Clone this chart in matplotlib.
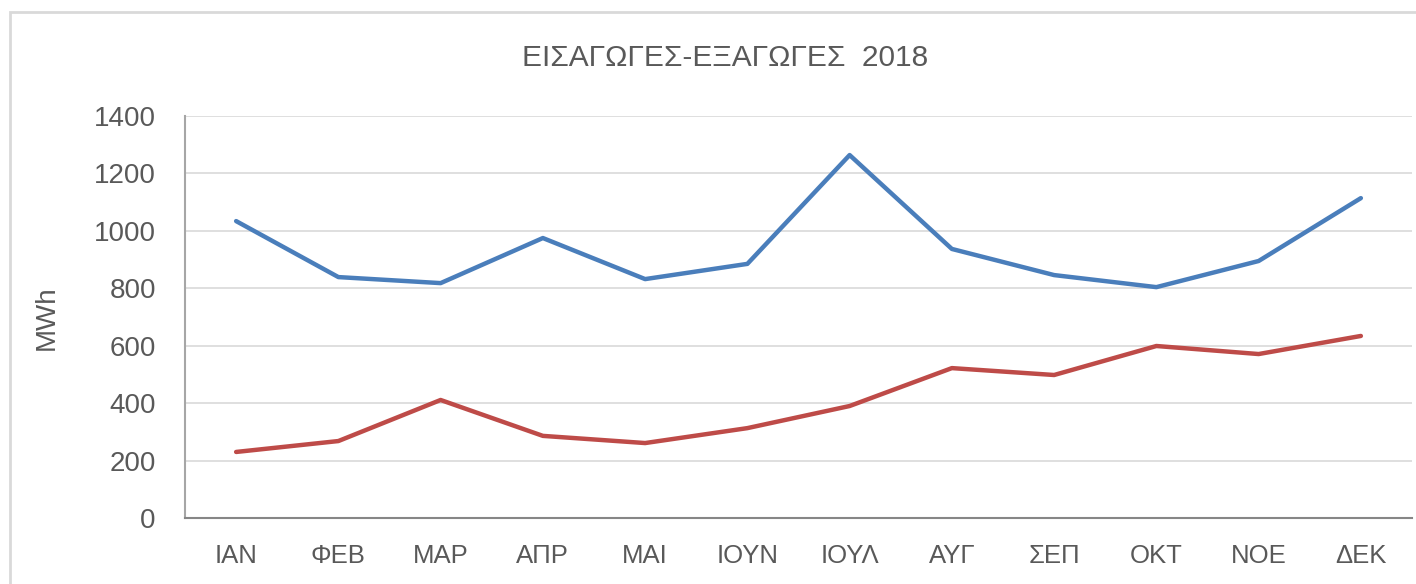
import numpy as np
import matplotlib.pyplot as plt
from matplotlib.patches import Rectangle

months = ['ΙΑΝ', 'ΦΕΒ', 'ΜΑΡ', 'ΑΠΡ', 'ΜΑΙ', 'ΙΟΥΝ', 'ΙΟΥΛ', 'ΑΥΓ', 'ΣΕΠ', 'ΟΚΤ', 'ΝΟΕ', 'ΔΕΚ']
imports_mwh = [1034, 839, 818, 975, 832, 885, 1264, 937, 846, 804, 895, 1114]
exports_mwh = [230, 268, 411, 286, 261, 313, 390, 522, 498, 599, 571, 634]
yticks = [0, 200, 400, 600, 800, 1000, 1200, 1400]

plt.rcParams['font.family'] = ['Liberation Sans', 'DejaVu Sans']
txt = '#595959'

fig = plt.figure(figsize=(14.16, 5.84), dpi=100)
# light frame round the chart (cut off at right and bottom like the screenshot)
fig.patches.append(Rectangle((10/1416, -0.05), 1.2, 1 - 12/584 + 0.05, transform=fig.transFigure,
                             fill=False, edgecolor='#d9d9d9', linewidth=2))

ax = fig.add_axes([185/1416, 1 - 518/584, (1412 - 185)/1416, (518 - 116)/584])
x = np.arange(len(months))
ax.plot(x, imports_mwh, color='#4a7ebb', linewidth=3.2, solid_capstyle='round')
ax.plot(x, exports_mwh, color='#be4b48', linewidth=3.2, solid_capstyle='round')

ax.set_xlim(-0.5, len(months) - 0.5)
ax.set_ylim(0, 1400)
ax.set_yticks(yticks)
ax.set_xticks(x)
ax.set_xticklabels(months)
ax.grid(axis='y', color='#d9d9d9', linewidth=1.2)
ax.set_axisbelow(True)
for s in ['top', 'right']:
    ax.spines[s].set_visible(False)
ax.spines['left'].set_color('#a6a6a6')
ax.spines['left'].set_linewidth(1.5)
ax.spines['bottom'].set_color('#868686')
ax.spines['bottom'].set_linewidth(1.5)
ax.tick_params(axis='both', length=0, colors=txt)
ax.tick_params(axis='y', labelsize=20, pad=21)
ax.tick_params(axis='x', labelsize=18.5, pad=19)

fig.text(47/1416, 1 - 318/584, 'MWh', rotation=90, ha='center', va='center', fontsize=20, color=txt)
fig.text(725/1416, 1 - 58/584, 'ΕΙΣΑΓΩΓΕΣ-ΕΞΑΓΩΓΕΣ  2018', ha='center', va='center', fontsize=21.5, color=txt)

fig.savefig('out.png', dpi=100)
